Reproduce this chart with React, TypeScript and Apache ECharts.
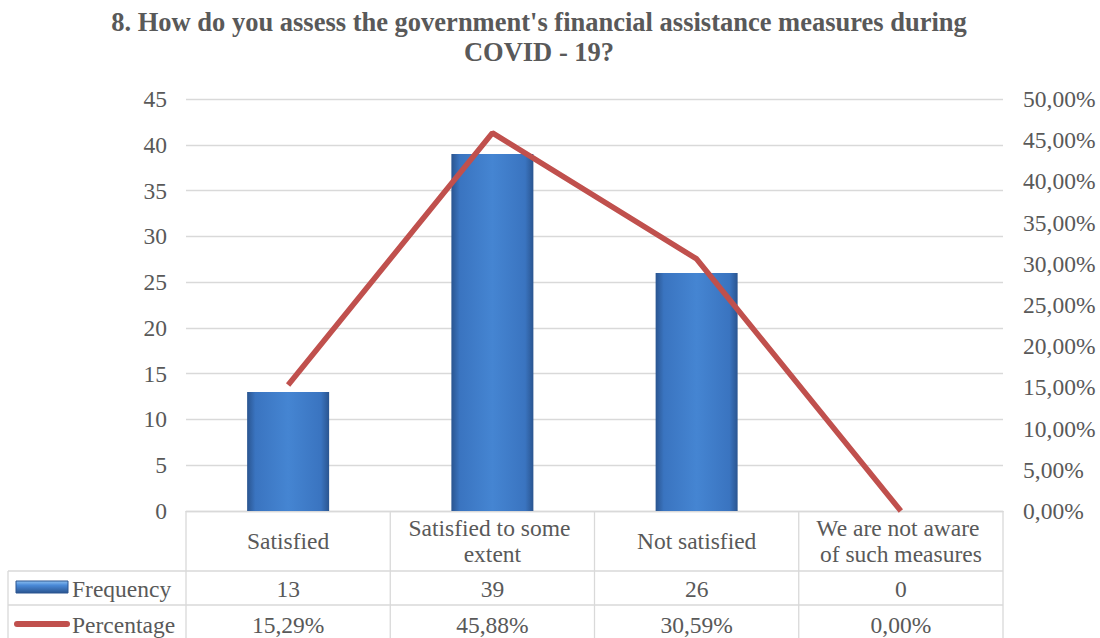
import React, { useEffect, useRef } from "react";
import * as echarts from "echarts";

const title = "8. How do you assess the government's financial assistance measures during\nCOVID - 19?";
const categories = ["Satisfied", "Satisfied to some extent", "Not satisfied", "We are not aware of such measures"];
const frequency = [13, 39, 26, 0];
const percentage = [15.29, 45.88, 30.59, 0];
const seriesNames = ["Frequency", "Percentage"];

const W = 1100;
const H = 638;
const GRID_L = 186;
const GRID_R = 1003;
const GRID_T = 99;
const GRID_B = 511;
const FONT = "Liberation Serif";
const FS = 23.5;
const TXT = "#595959";
const LINE = "#d9d9d9";

const fmtPct = (v: number) => v.toFixed(2).replace(".", ",") + "%";

export default function App() {
  const ref = useRef<HTMLDivElement>(null);
  useEffect(() => {
    if (!ref.current) return;
    const chart = echarts.init(ref.current, null, { renderer: "svg" });
    const colW = (GRID_R - GRID_L) / categories.length;
    const row1Top = 571;
    const row2Top = 605;
    const graphics: any[] = [];
    graphics.push({
      type: "text", x: 539, y: 7,
      style: {
        text: title, fontFamily: FONT, fontSize: 26.5, fontWeight: "bold", fill: TXT,
        align: "center", verticalAlign: "top", lineHeight: 30,
      },
    });
    const ln = (x1: number, y1: number, x2: number, y2: number) =>
      graphics.push({ type: "line", shape: { x1, y1, x2, y2 }, style: { stroke: LINE, lineWidth: 1.3 }, silent: true });
    ln(8, row1Top, GRID_R, row1Top);
    ln(8, row2Top, GRID_R, row2Top);
    ln(8, row1Top, 8, H);
    for (let i = 0; i <= categories.length; i++) {
      const x = GRID_L + colW * i;
      ln(x, GRID_B, x, H);
    }
    const txt = (text: string, x: number, y: number, align: string) => ({
      type: "text", x, y,
      style: { text, fontFamily: FONT, fontSize: FS, fill: TXT, align, verticalAlign: "middle" },
    });
    categories.forEach((_, i) => {
      const cx = GRID_L + colW * (i + 0.5);
      graphics.push(txt(String(frequency[i]), cx, (row1Top + row2Top) / 2 + 1, "center"));
      graphics.push(txt(fmtPct(percentage[i]), cx, (row2Top + H) / 2 + 3, "center"));
    });
    graphics.push(txt(seriesNames[0], 72, (row1Top + row2Top) / 2 + 1, "left"));
    graphics.push(txt(seriesNames[1], 72, (row2Top + H) / 2 + 3, "left"));
    graphics.push({
      type: "rect", shape: { x: 16, y: 581, width: 52, height: 12 },
      style: {
        fill: new echarts.graphic.LinearGradient(0, 0, 0, 1, [
          { offset: 0, color: "#8cc0f0" },
          { offset: 0.35, color: "#4a8ad8" },
          { offset: 1, color: "#2a5590" },
        ]),
        stroke: "#2a5590", lineWidth: 1,
      },
    });
    graphics.push({
      type: "line", shape: { x1: 17, y1: 624, x2: 67, y2: 624 },
      style: { stroke: "#c0504d", lineWidth: 6, lineCap: "round" },
    });

    chart.setOption({
      animation: false,
      backgroundColor: "#fff",
      grid: { left: GRID_L, right: W - GRID_R, top: GRID_T, bottom: H - GRID_B, containLabel: false },
      xAxis: {
        type: "category",
        data: categories,
        axisLine: { show: true, lineStyle: { color: LINE, width: 1.3 } },
        axisTick: { show: false },
        axisLabel: {
          interval: 0, margin: 30, verticalAlign: "middle", width: 180, overflow: "break",
          fontFamily: FONT, fontSize: FS, color: TXT, lineHeight: 26, align: "center",
        },
      },
      yAxis: [
        {
          type: "value", min: 0, max: 45, interval: 5,
          axisLine: { show: false }, axisTick: { show: false },
          splitLine: { lineStyle: { color: LINE, width: 1.3 } },
          axisLabel: { fontFamily: FONT, fontSize: FS, color: TXT, margin: 19 },
        },
        {
          type: "value", min: 0, max: 50, interval: 5,
          axisLine: { show: false }, axisTick: { show: false }, splitLine: { show: false },
          axisLabel: { fontFamily: FONT, fontSize: FS, color: TXT, margin: 20, formatter: (v: number) => fmtPct(v) },
        },
      ],
      series: [
        {
          name: seriesNames[0], type: "bar", data: frequency, barWidth: 82,
          itemStyle: {
            color: new echarts.graphic.LinearGradient(0, 0, 1, 0, [
              { offset: 0, color: "#2a5590" },
              { offset: 0.1, color: "#3a74c0" },
              { offset: 0.5, color: "#4585d2" },
              { offset: 0.9, color: "#3a74c0" },
              { offset: 1, color: "#2a5590" },
            ]),
          },
        },
        {
          name: seriesNames[1], type: "line", yAxisIndex: 1, data: percentage,
          symbol: "none", lineStyle: { color: "#c0504d", width: 5.5 }, z: 5,
        },
      ],
      graphic: graphics,
    });
    return () => chart.dispose();
  }, []);
  return <div ref={ref} style={{ position: "fixed", left: 0, top: 0, width: W, height: H }} />;
}
